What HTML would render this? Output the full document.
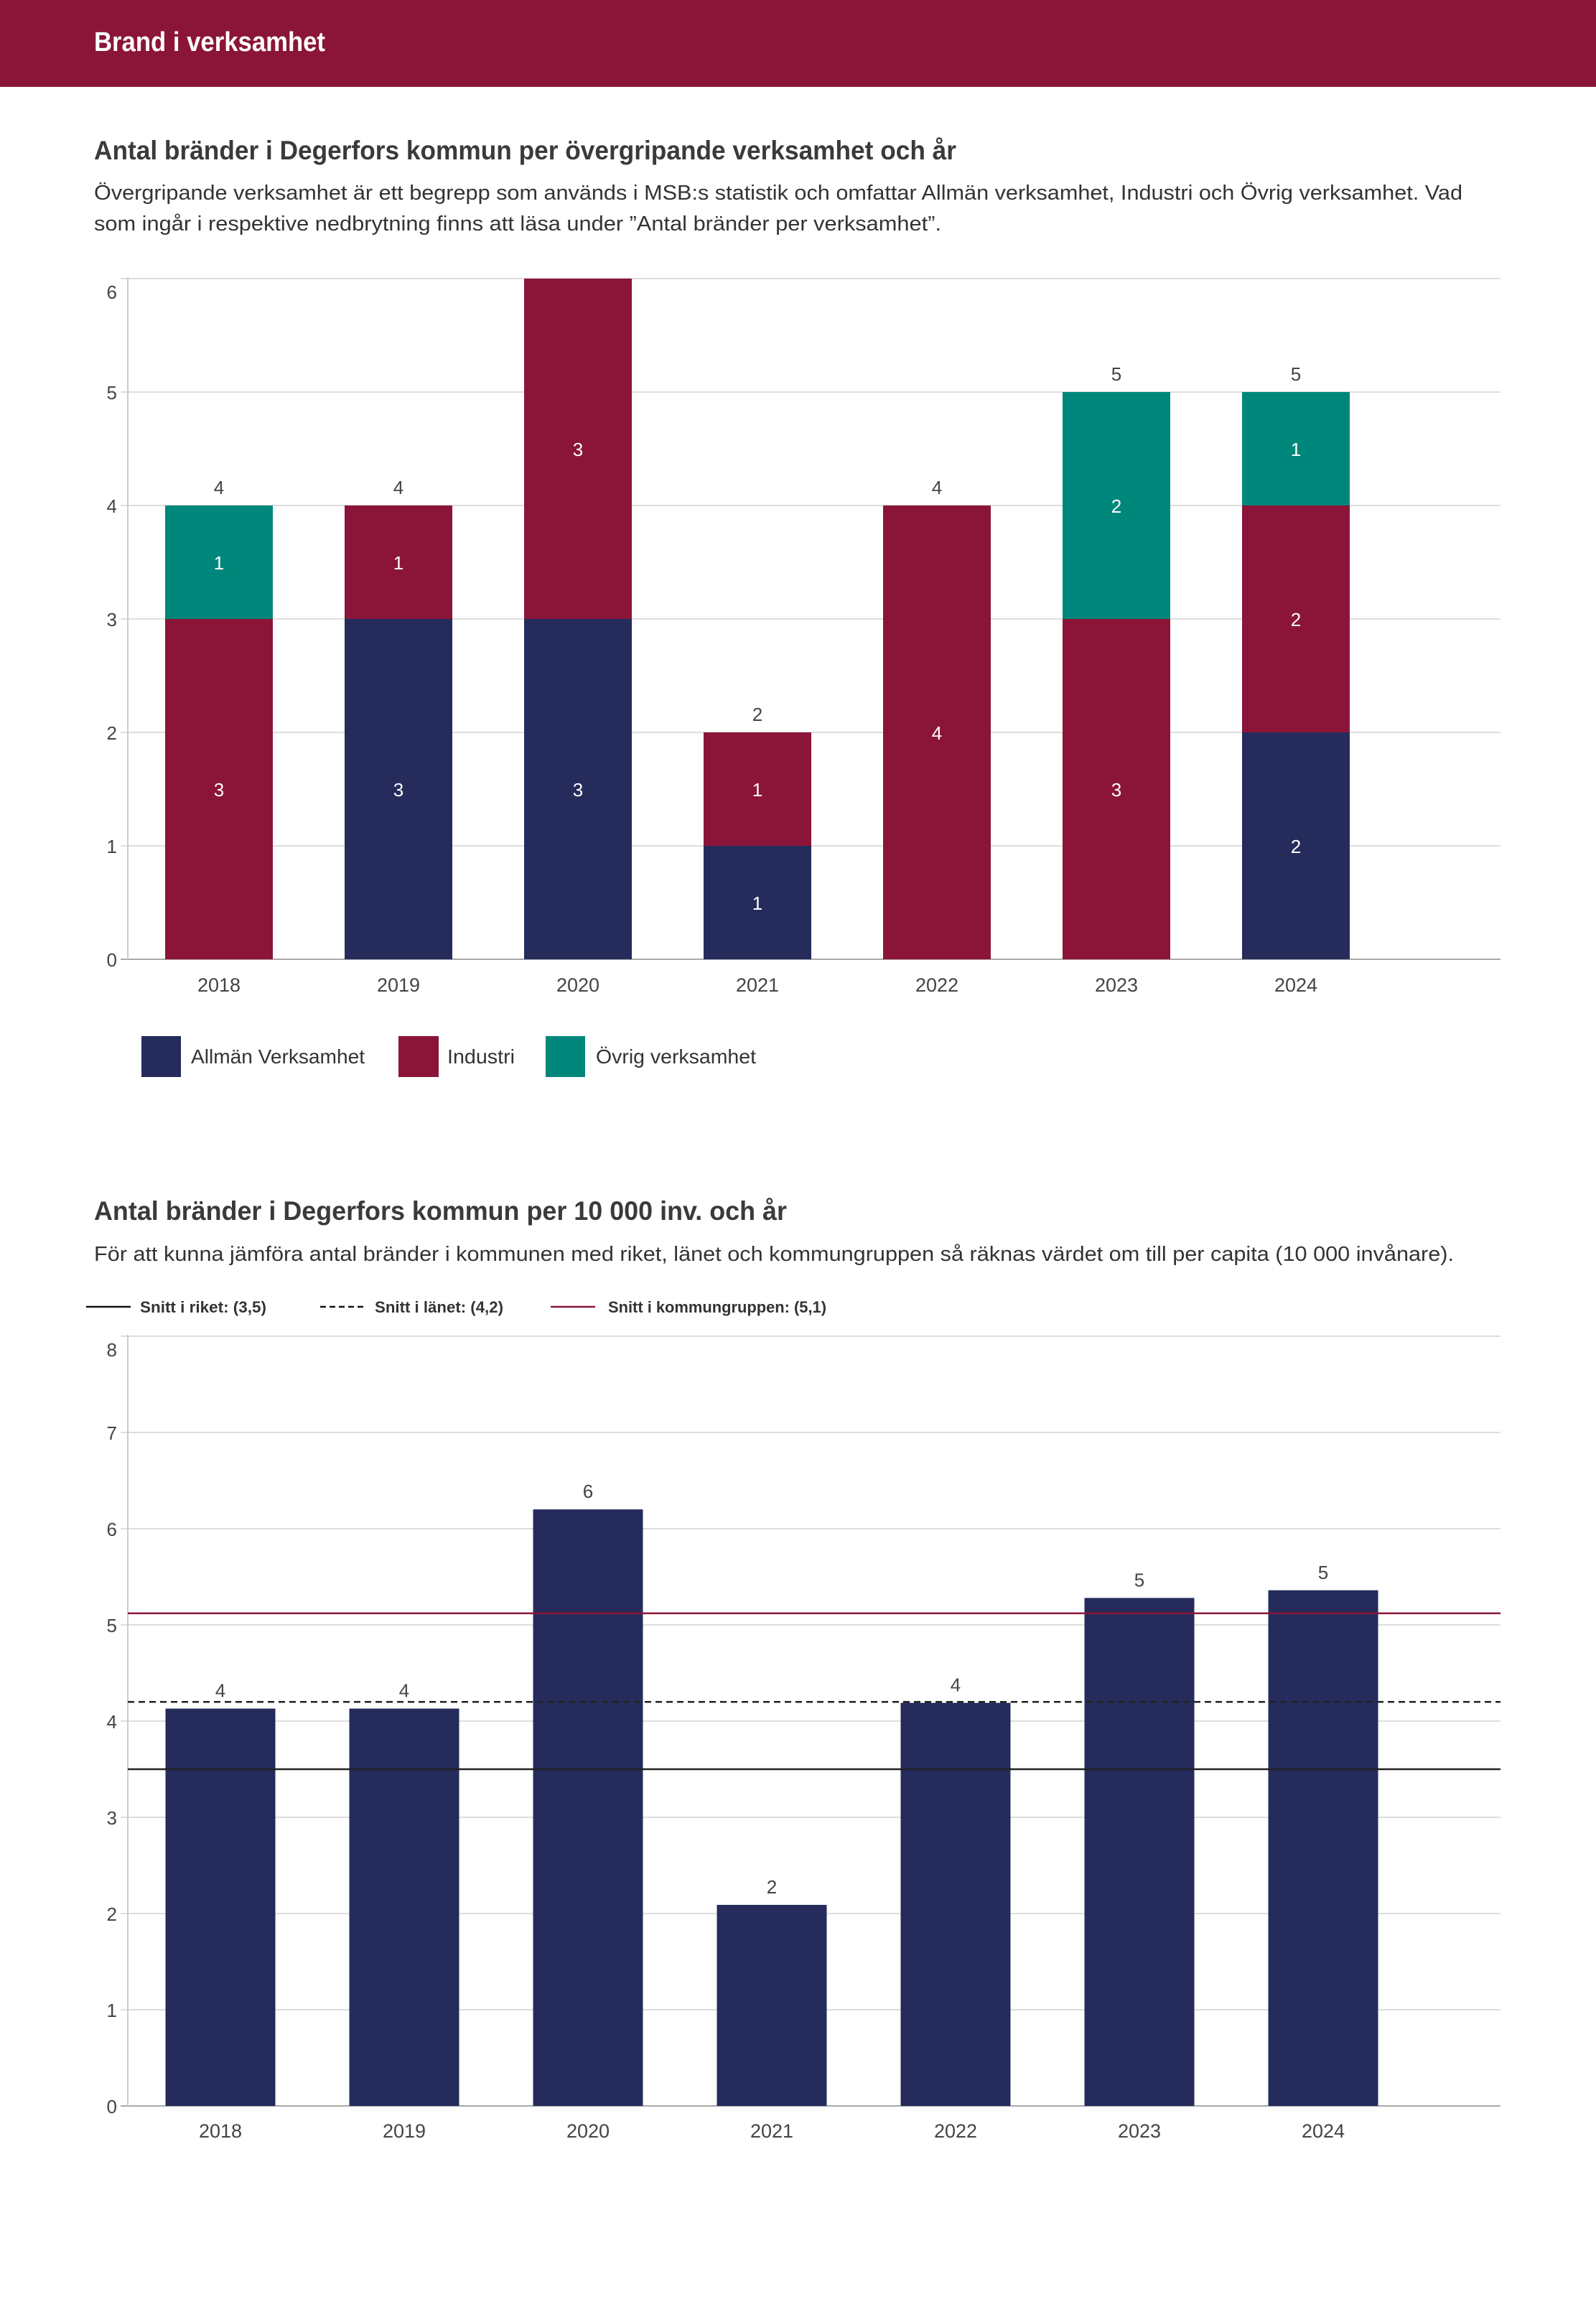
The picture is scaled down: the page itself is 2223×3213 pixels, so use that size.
<!DOCTYPE html>
<html><head><meta charset="utf-8"><style>
html,body{margin:0;padding:0;background:#fff;}
svg{display:block;font-family:"Liberation Sans",sans-serif;}
</style></head><body>
<svg id="page" width="2223" height="3213" viewBox="0 0 2223 3213" xmlns="http://www.w3.org/2000/svg">
<rect x="0" y="0" width="2223" height="121" fill="#8B1538"/>
<text x="131" y="71" font-size="38" font-weight="bold" fill="#fff" textLength="322" lengthAdjust="spacingAndGlyphs">Brand i verksamhet</text>

<text x="131" y="222" font-size="37" font-weight="bold" fill="#3a3a3a" textLength="1201" lengthAdjust="spacingAndGlyphs">Antal bränder i Degerfors kommun per övergripande verksamhet och år</text>
<text x="131" y="278" font-size="29" fill="#333" textLength="1906" lengthAdjust="spacingAndGlyphs">Övergripande verksamhet är ett begrepp som används i MSB:s statistik och omfattar Allmän verksamhet, Industri och Övrig verksamhet. Vad</text>
<text x="131" y="321" font-size="29" fill="#333" textLength="1180" lengthAdjust="spacingAndGlyphs">som ingår i respektive nedbrytning finns att läsa under ”Antal bränder per verksamhet”.</text>
<g id="chart1"></g>

<g>
<rect x="197" y="1443" width="55" height="57" fill="#252C5C"/>
<text x="266" y="1481" font-size="28" fill="#333" textLength="242" lengthAdjust="spacingAndGlyphs">Allmän Verksamhet</text>
<rect x="555" y="1443" width="56" height="57" fill="#8B1538"/>
<text x="623" y="1481" font-size="28" fill="#333" textLength="94" lengthAdjust="spacingAndGlyphs">Industri</text>
<rect x="760" y="1443" width="55" height="57" fill="#00877B"/>
<text x="830" y="1481" font-size="28" fill="#333" textLength="223" lengthAdjust="spacingAndGlyphs">Övrig verksamhet</text>
</g>

<text x="131" y="1699" font-size="37" font-weight="bold" fill="#3a3a3a" textLength="965" lengthAdjust="spacingAndGlyphs">Antal bränder i Degerfors kommun per 10 000 inv. och år</text>
<text x="131" y="1756" font-size="29" fill="#333" textLength="1894" lengthAdjust="spacingAndGlyphs">För att kunna jämföra antal bränder i kommunen med riket, länet och kommungruppen så räknas värdet om till per capita (10 000 invånare).</text>
<g>
<line x1="120" y1="1820" x2="182" y2="1820" stroke="#111" stroke-width="2.5"/>
<text x="195" y="1828" font-size="22" font-weight="bold" fill="#333" textLength="176" lengthAdjust="spacingAndGlyphs">Snitt i riket: (3,5)</text>
<line x1="446" y1="1820" x2="507" y2="1820" stroke="#111" stroke-width="2.5" stroke-dasharray="8,5"/>
<text x="522" y="1828" font-size="22" font-weight="bold" fill="#333" textLength="179" lengthAdjust="spacingAndGlyphs">Snitt i länet: (4,2)</text>
<line x1="767" y1="1820" x2="829" y2="1820" stroke="#8B1538" stroke-width="2.5"/>
<text x="847" y="1828" font-size="22" font-weight="bold" fill="#333" textLength="304" lengthAdjust="spacingAndGlyphs">Snitt i kommungruppen: (5,1)</text>
</g>
<g id="chart2"></g>
</svg>
<script>
const years = ["2018","2019","2020","2021","2022","2023","2024"];
const allman = [0,3,3,1,0,0,2];
const industri = [3,1,3,1,4,3,2];
const ovrig = [1,0,0,0,0,2,1];
const ticks1 = [0,1,2,3,4,5,6];
const perCapita = [4.13,4.13,6.2,2.09,4.19,5.28,5.36];
const perCapitaLabels = ["4","4","6","2","4","5","5"];
const ticks2 = [0,1,2,3,4,5,6,7,8];
const avgRiket = 3.5;
const avgLanet = 4.2;
const avgKommungrupp = 5.12;

const NS="http://www.w3.org/2000/svg";
function mk(parent,tag,attrs,txt){const e=document.createElementNS(NS,tag);for(const k in attrs)e.setAttribute(k,attrs[k]);if(txt!==undefined)e.textContent=txt;parent.appendChild(e);return e;}

function axis(g,ticks,y,L,R){
  const maxT=ticks[ticks.length-1];
  ticks.forEach(t=>{
    const ln=mk(g,'line',{x1:168,x2:R,y1:y(t),y2:y(t),stroke:t===0?'#aaa':'#ddd','stroke-width':2});
    
    
    const off=t===maxT?28:10;
    const tx=mk(g,'text',{x:163,y:y(t)+off,'font-size':26,fill:'#444','text-anchor':'end'},String(t));
    
    
  });
  const ax=mk(g,'line',{x1:L,x2:L,y1:y(maxT)-2,y2:y(0),stroke:'#ccc','stroke-width':2});
  
  
}

// chart 1
(function(){
const g=document.getElementById('chart1');
const L=178,R=2090,y0=1336,unit=158;
const y=v=>y0-v*unit;
const xc=i=>305+250*i;const bw=150;
axis(g,ticks1,y,L,R);
const maxT=ticks1[ticks1.length-1];
const series=[[allman,'#252C5C','allman'],[industri,'#8B1538','industri'],[ovrig,'#00877B','ovrig']];
years.forEach((yr,i)=>{
  let base=0;
  series.forEach(([arr,col,nm])=>{
    const v=arr[i];if(!v)return;
    const r=mk(g,'rect',{x:xc(i)-bw/2,y:y(base+v),width:bw,height:v*unit,fill:col});
    
    
    const t=mk(g,'text',{x:xc(i),y:y(base+v/2)+10,'font-size':26,fill:'#fff','text-anchor':'middle'},String(v));
    
    
    base+=v;
  });
  if(base<maxT){
    const tt=mk(g,'text',{x:xc(i),y:y(base)-16,'font-size':26,fill:'#444','text-anchor':'middle'},String(base));
    
    
  }
  const xl=mk(g,'text',{x:xc(i),y:1381,'font-size':27,fill:'#444','text-anchor':'middle'},yr);
  
  
});
})();

// chart 2
(function(){
const g=document.getElementById('chart2');
const L=178,R=2090,y0=2933,unit=134;
const y=v=>y0-v*unit;
const xc=i=>307+256*i;const bw=153;
axis(g,ticks2,y,L,R);
years.forEach((yr,i)=>{
  const v=perCapita[i];
  const r=mk(g,'rect',{x:xc(i)-bw/2,y:y(v),width:bw,height:v*unit,fill:'#252C5C'});
  
  
  const t=mk(g,'text',{x:xc(i),y:y(v)-16,'font-size':26,fill:'#444','text-anchor':'middle'},perCapitaLabels[i]);
  
  
  const xl=mk(g,'text',{x:xc(i),y:2977,'font-size':27,fill:'#444','text-anchor':'middle'},yr);
  
  
});
const l1=mk(g,'line',{x1:L,x2:R,y1:y(avgKommungrupp),y2:y(avgKommungrupp),stroke:'#8B1538','stroke-width':2.5});


const l2=mk(g,'line',{x1:L,x2:R,y1:y(avgLanet),y2:y(avgLanet),stroke:'#222','stroke-width':2.5,'stroke-dasharray':'9,6'});


const l3=mk(g,'line',{x1:L,x2:R,y1:y(avgRiket),y2:y(avgRiket),stroke:'#222','stroke-width':2.5});


})();
</script>
</body></html>
